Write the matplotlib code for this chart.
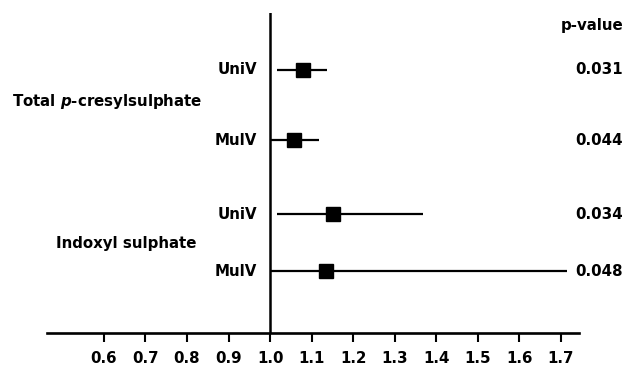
import matplotlib
matplotlib.use("Agg")
import matplotlib.pyplot as plt

plt.rcParams['font.family'] = ['DejaVu Sans']
plt.rcParams['mathtext.fontset'] = 'custom'
plt.rcParams['mathtext.it'] = 'DejaVu Sans:italic:bold'
plt.rcParams['mathtext.rm'] = 'DejaVu Sans:bold'

# Data
groups = ["Total $\\mathit{p}$-cresylsulphate", "Indoxyl sulphate"]
models = ["UniV", "MulV", "UniV", "MulV"]
estimates = [1.078, 1.058, 1.152, 1.135]
ci_low = [1.017, 1.000, 1.017, 1.000]
ci_high = [1.138, 1.118, 1.369, 1.715]
p_values = ["0.031", "0.044", "0.034", "0.048"]
tick_values = [0.6, 0.7, 0.8, 0.9, 1.0, 1.1, 1.2, 1.3, 1.4, 1.5, 1.6, 1.7]
tick_labels = ["0.6", "0.7", "0.8", "0.9", "1.0", "1.1", "1.2", "1.3", "1.4", "1.5", "1.6", "1.7"]

# layout
row_y = [3.78, 2.77, 1.71, 0.89]
group_y = [0.723, 0.337]
group_x = [0.019, 0.090]

W, H = 626, 367
fig = plt.figure(figsize=(W / 100, H / 100), dpi=100)
ax = fig.add_axes([46.7 / W, 33.7 / H, (579.3 - 46.7) / W, (333.3 - 12.7) / H])
ax.set_xlim(0.4625, 1.744)
ax.set_ylim(0, 4.6)

for s in ['top', 'right', 'left']:
    ax.spines[s].set_visible(False)
ax.spines['bottom'].set_linewidth(1.9)
ax.set_yticks([])
ax.set_xticks(tick_values)
ax.set_xticklabels(tick_labels, fontsize=10.8, fontweight='bold')
ax.tick_params(axis='x', direction='out', length=6.5, width=1.5, pad=6.5, colors='black')

ax.axvline(1.0, color='black', lw=1.8, zorder=2)

for y, est, lo, hi in zip(row_y, estimates, ci_low, ci_high):
    ax.plot([lo, hi], [y, y], color='black', lw=1.6, solid_capstyle='butt', zorder=3)
    ax.plot([est], [y], marker='s', color='black', markersize=10, zorder=4)

for y, m in zip(row_y, models):
    ax.annotate(m, xy=(1.0, y), xytext=(-13, 0), textcoords='offset pixels',
                ha='right', va='center', fontsize=10.8, fontweight='bold', annotation_clip=False)

for y, p in zip(row_y, p_values):
    ax.annotate(p, xy=(1.0, y), xycoords=('figure fraction', 'data'), xytext=(623 / W, y),
                textcoords=('figure fraction', 'data'), ha='right', va='center',
                fontsize=10.8, fontweight='bold', annotation_clip=False)

ax.annotate("p-value", xy=(623 / W, 4.42), xycoords=('figure fraction', 'data'),
            ha='right', va='center', fontsize=10.8, fontweight='bold', annotation_clip=False)

for g, gx, gy in zip(groups, group_x, group_y):
    fig.text(gx, gy, g, ha='left', va='center', fontsize=10.8, fontweight='bold')

fig.savefig("out.png", dpi=100)
